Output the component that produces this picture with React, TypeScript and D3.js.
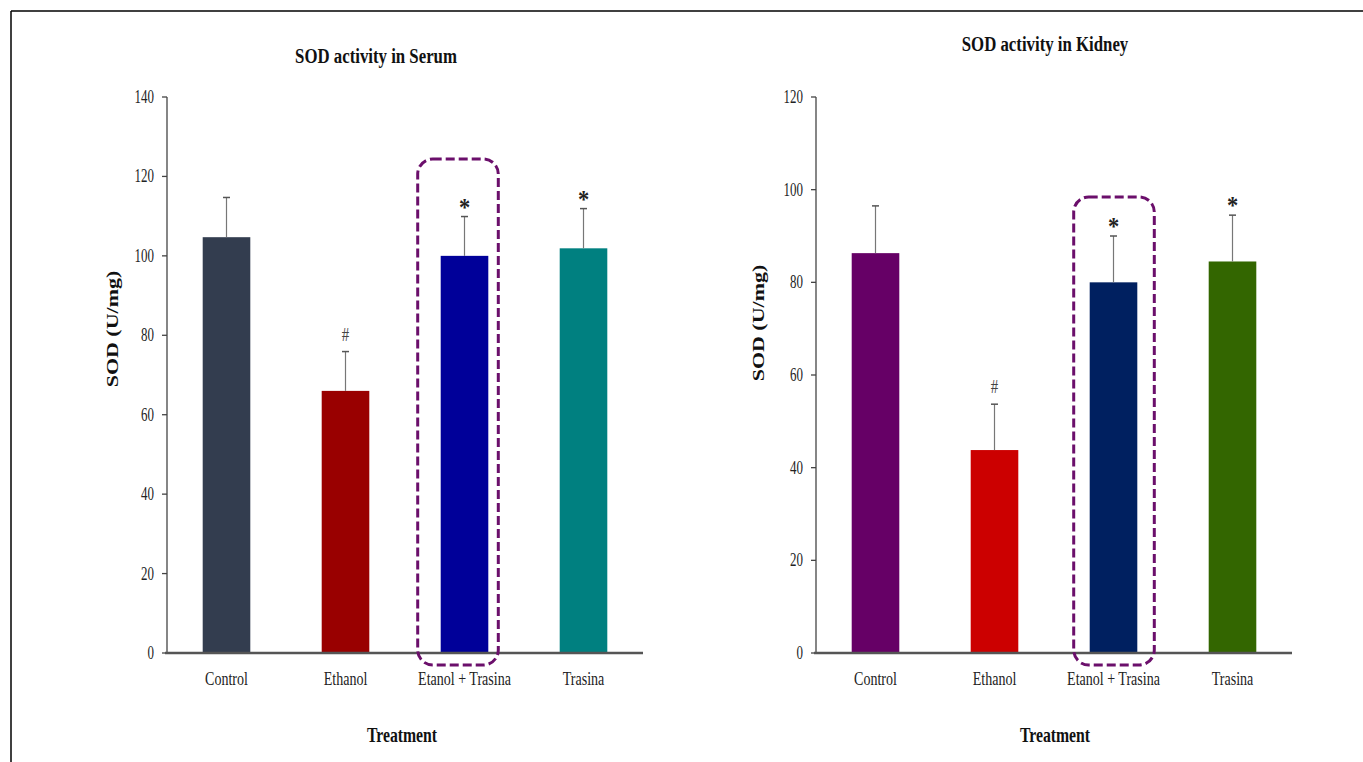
import React from "react";
import * as d3 from "d3";

const categories = ["Control", "Ethanol", "Etanol + Trasina", "Trasina"];

const serumMeans = [104.7, 66.0, 100.0, 101.9];
const serumErrors = [10.0, 9.9, 9.9, 10.0];
const serumMarks = ["", "#", "*", "*"];
const serumTicks = [0, 20, 40, 60, 80, 100, 120, 140];

const kidneyMeans = [86.3, 43.8, 80.0, 84.5];
const kidneyErrors = [10.2, 9.9, 10.0, 10.0];
const kidneyMarks = ["", "#", "*", "*"];
const kidneyTicks = [0, 20, 40, 60, 80, 100, 120];

const serumColors = ["#333d4f", "#990000", "#000099", "#008080"];
const kidneyColors = ["#660066", "#cc0000", "#002060", "#336600"];

const FONT = "'Liberation Serif', 'Times New Roman', serif";

// squeezed text: the source picture is narrowed horizontally
function SText({ x, y, sx = 0.78, children, ...rest }: any) {
    return (
        <text transform={`translate(${x},${y}) scale(${sx},1)`} fontFamily={FONT} {...rest}>
            {children}
        </text>
    );
}

function Panel(props: any) {
    const {
        title, titleX, titleY, left, right, top, bottom, max, ticks,
        means, errors, marks, colors, highlight, boxLeft, boxRight, boxTop,
        yLabelX, yLabelY, treatX,
    } = props;

    const x = d3.scaleBand().domain(categories).range([left, right]).paddingInner(0.6).paddingOuter(0.3);
    const y = d3.scaleLinear().domain([0, max]).range([bottom, top]);
    const bw = x.bandwidth();

    const hx = x(categories[highlight])!;

    return (
        <g>
            <SText x={titleX} y={titleY} sx={0.8} fontSize={21} fontWeight="bold" textAnchor="middle" fill="#111">
                {title}
            </SText>

            {/* y axis */}
            <line x1={left} x2={left} y1={top} y2={bottom} stroke="#444" strokeWidth={1.3} />
            {ticks.map((t: number) => (
                <g key={t}>
                    <line x1={left - 5} x2={left} y1={y(t)} y2={y(t)} stroke="#444" strokeWidth={1.3} />
                    <SText x={left - 13} y={y(t) + 6} sx={0.72} fontSize={18} textAnchor="end" fill="#222">
                        {t}
                    </SText>
                </g>
            ))}

            {/* bars */}
            {categories.map((c, i) => {
                const cx = x(c)! + bw / 2;
                const yTop = y(means[i] + errors[i]);
                return (
                    <g key={c}>
                        <rect x={x(c)} y={y(means[i])} width={bw} height={bottom - y(means[i])} fill={colors[i]} />
                        <line x1={cx} x2={cx} y1={y(means[i])} y2={yTop} stroke="#777" strokeWidth={1.2} />
                        <line x1={cx - 3.5} x2={cx + 3.5} y1={yTop} y2={yTop} stroke="#555" strokeWidth={1.5} />
                        {marks[i] === "*" && (
                            <SText x={cx} y={yTop - 1} sx={0.9} fontSize={25} fontWeight="bold" textAnchor="middle" fill="#222">
                                *
                            </SText>
                        )}
                        {marks[i] === "#" && (
                            <SText x={cx} y={yTop - 11} sx={0.78} fontSize={19} textAnchor="middle" fill="#444">
                                #
                            </SText>
                        )}
                        <SText x={cx} y={685} sx={0.78} fontSize={18} textAnchor="middle" fill="#222">
                            {c}
                        </SText>
                    </g>
                );
            })}

            {/* x axis */}
            <line x1={left - 2} x2={right} y1={bottom} y2={bottom} stroke="#555" strokeWidth={2.5} />

            {/* highlight box */}
            <rect
                x={hx - boxLeft}
                y={boxTop}
                width={bw + boxLeft + boxRight}
                height={665 - boxTop}
                rx={15}
                ry={15}
                fill="none"
                stroke="#6b0f6b"
                strokeWidth={3}
                strokeDasharray="9 4"
            />

            <text
                transform={`translate(${yLabelX},${yLabelY}) rotate(-90) scale(1,0.78)`}
                fontFamily={FONT}
                fontSize={22}
                fontWeight="bold"
                textAnchor="middle"
                fill="#111"
            >
                SOD (U/mg)
            </text>

            <SText x={treatX} y={742} sx={0.75} fontSize={21} fontWeight="bold" textAnchor="middle" fill="#111">
                Treatment
            </SText>
        </g>
    );
}

export default function App() {
    return (
        <svg width={1363} height={762} style={{ position: "absolute", left: 0, top: 0, background: "#fff" }}>
            <line x1={11} x2={1363} y1={11} y2={11} stroke="#000" strokeWidth={1.5} />
            <line x1={11} x2={11} y1={11} y2={762} stroke="#000" strokeWidth={1.5} />
            <Panel
                title="SOD activity in Serum"
                titleX={376}
                titleY={63}
                left={167}
                right={643}
                top={97}
                bottom={653}
                max={140}
                ticks={serumTicks}
                means={serumMeans}
                errors={serumErrors}
                marks={serumMarks}
                colors={serumColors}
                highlight={2}
                boxLeft={23}
                boxRight={10}
                boxTop={159}
                yLabelX={118}
                yLabelY={329}
                treatX={402}
            />
            <Panel
                title="SOD activity in Kidney"
                titleX={1045}
                titleY={51}
                left={816}
                right={1292}
                top={97}
                bottom={653}
                max={120}
                ticks={kidneyTicks}
                means={kidneyMeans}
                errors={kidneyErrors}
                marks={kidneyMarks}
                colors={kidneyColors}
                highlight={2}
                boxLeft={16}
                boxRight={17}
                boxTop={197}
                yLabelX={764}
                yLabelY={323}
                treatX={1055}
            />
        </svg>
    );
}
